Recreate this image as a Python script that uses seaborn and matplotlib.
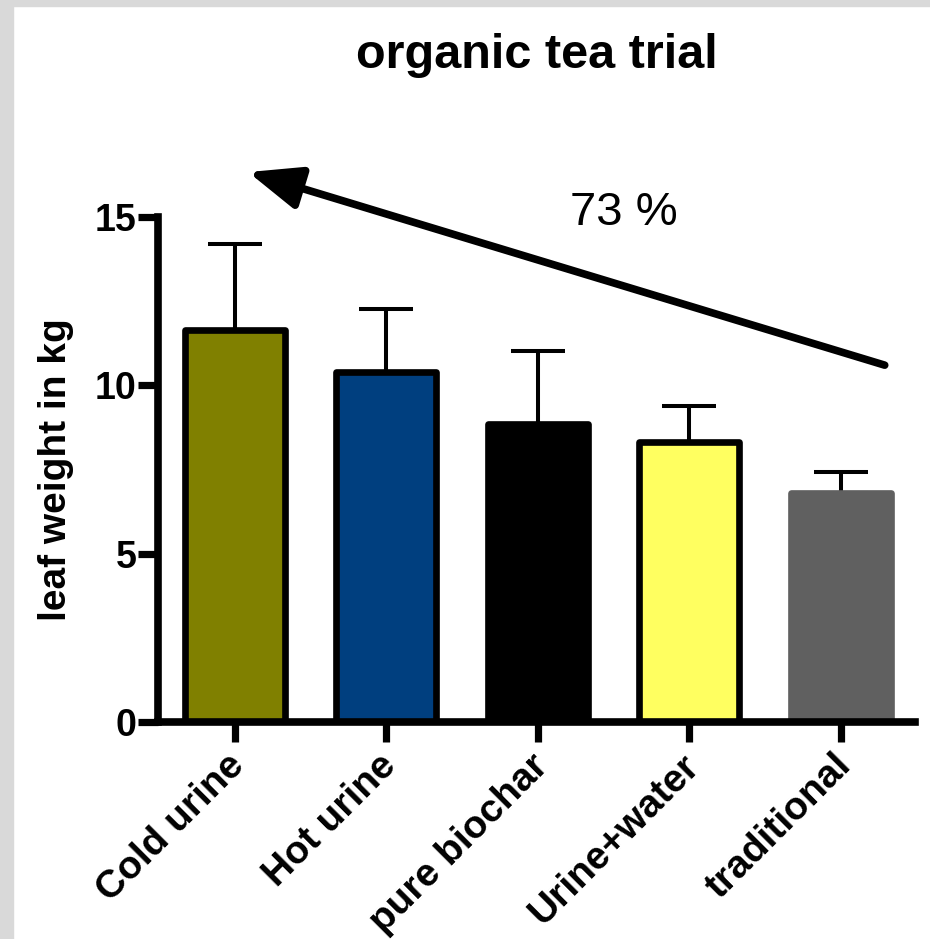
import numpy as np
import pandas as pd
import matplotlib
matplotlib.use('agg')
import matplotlib.pyplot as plt
import matplotlib.transforms as mtransforms
import seaborn as sns
from matplotlib.patches import Rectangle

treatments = ["Cold urine", "Hot urine", "pure biochar", "Urine+water", "traditional"]
leaf_weight = [11.63, 10.39, 8.84, 8.31, 6.80]
sd_upper = [2.55, 1.87, 2.17, 1.07, 0.62]
bar_colors = ["#808000", "#003F7F", "#000000", "#FFFF60", "#606060"]
edge_colors = ["#000000", "#000000", "#000000", "#000000", "#606060"]
y_ticks = [0, 5, 10, 15]
change_label = "73 %"

sns.set_style("ticks")
plt.rcParams["font.family"] = ["Liberation Sans", "DejaVu Sans"]
plt.rcParams.update({"text.color": "black", "axes.labelcolor": "black",
                     "xtick.color": "black", "ytick.color": "black",
                     "axes.edgecolor": "black"})

df = pd.DataFrame({"treatment": treatments, "weight": leaf_weight})

fig = plt.figure(figsize=(9.3, 9.39), dpi=100)
ax = fig.add_axes([0.1699, 0.2311, 0.8140, 0.5921])

sns.barplot(data=df, x="treatment", y="weight", hue="treatment",
            palette=bar_colors, saturation=1, legend=False, errorbar=None,
            width=0.66, linewidth=4.8, ax=ax, zorder=2)
for patch, ec in zip(ax.patches, edge_colors):
    patch.set_edgecolor(ec)
    patch.set_joinstyle("round")

xpos = np.arange(len(treatments))
ax.errorbar(xpos, leaf_weight, yerr=[np.zeros(len(sd_upper)), sd_upper],
            fmt="none", ecolor="black", elinewidth=2.9, capsize=19.5,
            capthick=2.9, zorder=1)

ax.set_xlim(-0.505, 4.49)
ax.set_ylim(0, 16.5)
ax.set_yticks(y_ticks)
ax.spines["left"].set_bounds(0, 15)
sns.despine(ax=ax)
for side in ["left", "bottom"]:
    ax.spines[side].set_linewidth(5.5)
    ax.spines[side].set_color("black")
ax.tick_params(axis="both", length=14.4, width=5.2, pad=1, colors="black")
ax.tick_params(axis="y", labelsize=27)
ax.tick_params(axis="x", labelsize=28, pad=4)
for lab in ax.get_yticklabels():
    lab.set_fontweight("bold")
# nudge rotated labels a little to the left, like the original
shift = mtransforms.ScaledTranslation(-8 / 100, 0, fig.dpi_scale_trans)
for lab in ax.get_xticklabels():
    lab.set_fontweight("bold")
    lab.set_rotation(45)
    lab.set_ha("right")
    lab.set_va("top")
    lab.set_rotation_mode("anchor")
    lab.set_transform(lab.get_transform() + shift)

ax.set_xlabel("")
ax.set_ylabel("leaf weight in kg", fontsize=28, fontweight="bold")
ax.yaxis.set_label_coords(-0.111, 7.5 / 16.5)

fig.text(0.577, 0.928, "organic tea trial", ha="center", va="baseline",
         fontsize=35, fontweight="bold")

ax.annotate("", xy=(0.09, 16.32), xytext=(4.29, 10.59),
            arrowprops=dict(arrowstyle="-|>,head_length=1.6,head_width=0.65",
                            lw=5.5, color="black", mutation_scale=20,
                            shrinkA=0, shrinkB=0),
            annotation_clip=False)
ax.text(2.57, 15.1, change_label, ha="center", va="center", fontsize=34)

# light grey frame along top and left edge
fig.patches.append(Rectangle((0, 1 - 6 / 939), 1, 6 / 939, transform=fig.transFigure,
                             color="#d9d9d9", zorder=0))
fig.patches.append(Rectangle((0, 0), 13 / 930, 1, transform=fig.transFigure,
                             color="#d9d9d9", zorder=0))

fig.savefig("out.png", dpi=100)
plt.close(fig)
